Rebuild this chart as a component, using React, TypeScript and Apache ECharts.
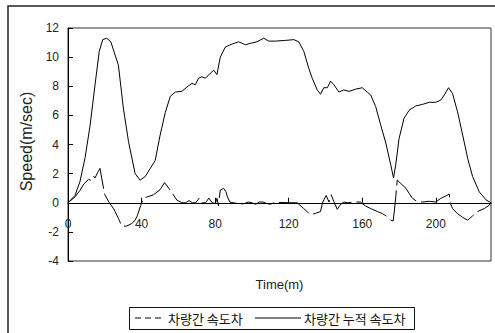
import React, { useEffect, useRef } from "react";
import * as echarts from "echarts";

// 차량간 누적 속도차 (solid line)
const cumTime = [0, 3.8, 6.5, 9.3, 12, 14.7, 17, 18.9, 21, 23.3, 24.7, 27.4, 30.1, 32.9, 36.5, 39.2, 42, 44.7, 47.4, 50.1, 52.9, 55.6, 58.3, 61.9, 64.7, 67.4, 69.2, 71, 72.8, 74.7, 77.4, 79.2, 81, 82.8, 85.6, 89.2, 92.8, 96.5, 99.2, 102.8, 106.4, 109.2, 113, 118.3, 122.8, 125.5, 128.2, 131, 132.8, 135.5, 137.3, 139.1, 141, 142.8, 144.6, 147.3, 150, 152.8, 156.4, 160, 162.7, 164.6, 167.3, 170, 172.8, 175.5, 177, 178.2, 180, 182.7, 185.5, 189.1, 192.7, 196.4, 200, 202.7, 204.6, 206.9, 209.1, 211.8, 214.6, 217.3, 220, 223.6, 227.3, 230];
const cumSpeed = [0, 0.5, 1.45, 3.1, 5.3, 8.1, 10.4, 11.2, 11.3, 11.05, 10.5, 9.45, 6.5, 4.2, 2.0, 1.55, 1.8, 2.35, 2.9, 4.65, 6.2, 7.3, 7.6, 7.65, 7.95, 8.2, 8.1, 8.55, 8.65, 8.55, 8.9, 9.1, 8.8, 10.0, 10.7, 10.9, 11.05, 10.85, 10.95, 11.05, 11.3, 11.1, 11.1, 11.15, 11.2, 11.05, 10.4, 9.2, 8.55, 7.75, 7.45, 7.9, 7.9, 8.35, 8.1, 7.6, 7.75, 7.65, 7.8, 7.9, 7.6, 7.4, 6.6, 5.35, 4.1, 2.6, 1.7, 2.6, 4.4, 5.8, 6.35, 6.65, 6.75, 6.9, 6.9, 7.05, 7.4, 7.9, 7.5, 6.25, 4.65, 3.05, 1.8, 0.75, 0.2, 0];

// 차량간 속도차 (dashed line)
const diffTime = [0, 3.8, 6.5, 8.7, 11.1, 12.3, 13.8, 14.7, 16.2, 17.4, 18.6, 20, 22.5, 24.7, 25.6, 27.4, 29.2, 32, 34.7, 36.5, 37.8, 39.5, 41, 43, 46.5, 50.1, 52.5, 55.6, 59.2, 61.9, 64, 65.8, 67.6, 69.5, 71.3, 73, 74.8, 76.6, 78.4, 80.1, 81, 81.8, 82.8, 84.6, 85.9, 86.5, 88, 90, 92, 94, 96, 98, 100, 102, 104, 106, 108, 110, 112, 116, 120, 124.6, 128.2, 131.8, 134.6, 137.3, 138.2, 139.1, 140.4, 141.9, 143.1, 144.5, 146.4, 148.3, 150, 152, 155.4, 159, 161.8, 164.6, 168.2, 171, 173.7, 175.5, 176.8, 177.5, 178.3, 179, 180.9, 183.7, 185.5, 187.3, 190, 192.7, 196.4, 200, 202.7, 205.4, 207.3, 207.8, 209.1, 211.8, 214.6, 217.3, 220, 222.7, 226.4, 229.1, 230];
const diffSpeed = [0, 0.4, 0.85, 1.3, 1.6, 1.55, 1.85, 1.7, 2.1, 2.36, 1.5, 0.55, 0, -0.4, -0.6, -1.07, -1.6, -1.6, -1.42, -1.2, -0.85, -0.2, 0.3, 0.4, 0.55, 0.9, 1.38, 0.87, 0.18, 0, 0, 0.15, 0, 0, 0.32, 0, 0, 0.32, 0, -0.05, 0.3, -0.2, 0.87, 0.99, 0.76, 0.46, 0.05, 0, -0.05, -0.1, -0.05, 0.05, 0, -0.1, 0.05, 0.05, -0.05, -0.1, 0, 0.02, 0, 0, -0.4, -0.82, -0.73, -0.6, -0.1, 0.2, 0.5, 0.05, 0.55, 0.1, -0.45, -0.1, 0.05, 0, 0.05, 0.05, -0.23, -0.4, -0.6, -0.75, -0.96, -1.2, -1.25, -0.5, 0.5, 1.56, 1.33, 1.0, 0.64, 0.3, 0.07, 0.05, 0.1, 0.05, 0.3, 0.46, 0.6, 0, -0.4, -0.75, -1.0, -1.2, -0.9, -0.6, -0.4, -0.16, 0];

const seriesNames = ["차량간 속도차", "차량간 누적 속도차"];
const xTitle = "Time(m)";
const yTitle = "Speed(m/sec)";
const yMin = -4;
const yMax = 12;

const zip = (xs: number[], ys: number[]) => xs.map((x, i) => [x, ys[i]]);

export default function App() {
  const ref = useRef<HTMLDivElement>(null);
  useEffect(() => {
    if (!ref.current) return;
    const chart = echarts.init(ref.current, undefined, { renderer: "svg" });
    const sans = "'Liberation Sans', Arial, sans-serif";
    const kr = "'Noto Sans CJK KR', sans-serif";
    const gTop = 28;
    const gBottom = 72;
    const gH = 333 - gTop - gBottom;
    const zeroY = gTop + (gH * yMax) / (yMax - yMin);
    const xOffset = -(333 - gBottom - zeroY);
    const legY = 318;
    chart.setOption({
      animation: false,
      backgroundColor: "#fff",
      graphic: [
        {
          type: "rect",
          shape: { x: 8, y: 6, width: 500, height: 345 },
          style: { fill: "none", stroke: "#222", lineWidth: 1.5 },
          silent: true,
        },
        {
          type: "rect",
          shape: { x: 129.5, y: 307.5, width: 285, height: 22 },
          style: { fill: "#fff", stroke: "#111", lineWidth: 1 },
          silent: true,
        },
        {
          type: "line",
          shape: { x1: 135, y1: legY, x2: 164, y2: legY },
          style: { stroke: "#000", lineWidth: 1, lineDash: [6, 4] },
          silent: true,
        },
        {
          type: "text",
          x: 168,
          y: legY,
          style: { text: seriesNames[0], font: `13px ${kr}`, fill: "#111", verticalAlign: "middle" },
          silent: true,
        },
        {
          type: "line",
          shape: { x1: 255, y1: legY, x2: 301, y2: legY },
          style: { stroke: "#000", lineWidth: 1 },
          silent: true,
        },
        {
          type: "text",
          x: 304,
          y: legY,
          style: { text: seriesNames[1], font: `13px ${kr}`, fill: "#111", verticalAlign: "middle" },
          silent: true,
        },
      ],
      grid: {
        left: 68,
        top: gTop,
        right: 4,
        bottom: gBottom,
        show: true,
        borderColor: "#333",
        borderWidth: 1,
        backgroundColor: "transparent",
        containLabel: false,
        outerBoundsMode: "none",
      },
      xAxis: {
        type: "value",
        min: 0,
        max: 230,
        interval: 40,
        offset: xOffset,
        name: xTitle,
        nameLocation: "middle",
        nameGap: 75,
        nameTextStyle: { fontFamily: sans, fontSize: 13, color: "#222" },
        axisLine: { onZero: false, lineStyle: { color: "#000", width: 1 } },
        axisTick: { show: true, inside: true, length: 5, lineStyle: { color: "#000" } },
        axisLabel: { margin: 15, fontFamily: sans, fontSize: 12, color: "#222", showMaxLabel: false },
        splitLine: { show: false },
      },
      yAxis: {
        type: "value",
        min: yMin,
        max: yMax,
        interval: 2,
        name: yTitle,
        nameLocation: "middle",
        nameGap: 30,
        nameTextStyle: { fontFamily: sans, fontSize: 16, color: "#222", padding: [0, 0, 0, 6] },
        axisLine: { show: true, onZero: false, lineStyle: { color: "#000", width: 1 } },
        axisTick: { show: true, inside: true, length: 5, lineStyle: { color: "#000" } },
        axisLabel: { margin: 9, fontFamily: sans, fontSize: 12, color: "#222" },
        splitLine: { show: false },
      },
      series: [
        {
          name: seriesNames[0],
          type: "line",
          data: zip(diffTime, diffSpeed),
          showSymbol: false,
          symbol: "none",
          lineStyle: { color: "#000", width: 1, type: [34, 5] },
          itemStyle: { color: "#000" },
        },
        {
          name: seriesNames[1],
          type: "line",
          data: zip(cumTime, cumSpeed),
          showSymbol: false,
          symbol: "none",
          lineStyle: { color: "#000", width: 1, type: "solid" },
          itemStyle: { color: "#000" },
        },
      ],
    });
    return () => chart.dispose();
  }, []);
  return (
    <div
      ref={ref}
      style={{ position: "fixed", left: 0, top: 0, width: 495, height: 333, background: "#fff" }}
    />
  );
}
